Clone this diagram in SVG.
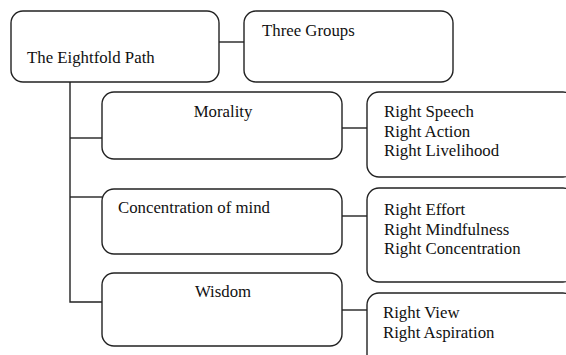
<svg xmlns="http://www.w3.org/2000/svg" width="566" height="355" viewBox="0 0 566 355">
<style>
.box{fill:#fff;stroke:#222;stroke-width:1.4}
.ln{fill:none;stroke:#222;stroke-width:1.4}
text{font-family:"Liberation Serif","Times New Roman",serif;font-size:16.8px;fill:#111}
</style>
<rect width="566" height="355" fill="#fff"/>
<g id="connectors">
<line class="ln" x1="219" y1="42" x2="244" y2="42"/>
<polyline class="ln" points="70,82 70,302 102,302"/>
<line class="ln" x1="70" y1="138" x2="102" y2="138"/>
<line class="ln" x1="70" y1="197" x2="102" y2="197"/>
<line class="ln" x1="342" y1="128" x2="367" y2="128"/>
<line class="ln" x1="342" y1="216" x2="367" y2="216"/>
<line class="ln" x1="342" y1="310" x2="367" y2="310"/>
</g>
<g id="eightfold">
<rect class="box" x="11" y="11" width="208" height="71" rx="12"/>
<text x="27" y="63">The Eightfold Path</text>
</g>
<g id="three-groups">
<rect class="box" x="244" y="11" width="209" height="71" rx="12"/>
<text x="262" y="36">Three Groups</text>
</g>
<g id="morality">
<rect class="box" x="102" y="92" width="240" height="67" rx="12"/>
<text x="223" y="117" text-anchor="middle">Morality</text>
</g>
<g id="concentration">
<rect class="box" x="102" y="189" width="240" height="65" rx="12"/>
<text x="118" y="213">Concentration of mind</text>
</g>
<g id="wisdom">
<rect class="box" x="102" y="273" width="240" height="73" rx="12"/>
<text x="223" y="297" text-anchor="middle">Wisdom</text>
</g>
<g id="morality-items">
<rect class="box" x="367" y="92" width="208" height="85" rx="12"/>
<text x="384" y="117">Right Speech</text>
<text x="384" y="137">Right Action</text>
<text x="384" y="156">Right Livelihood</text>
</g>
<g id="concentration-items">
<rect class="box" x="367" y="188" width="208" height="94" rx="12"/>
<text x="384" y="215">Right Effort</text>
<text x="384" y="235">Right Mindfulness</text>
<text x="384" y="254">Right Concentration</text>
</g>
<g id="wisdom-items">
<rect class="box" x="367" y="293" width="208" height="80" rx="12"/>
<text x="383" y="318">Right View</text>
<text x="383" y="338">Right Aspiration</text>
</g>
</svg>
